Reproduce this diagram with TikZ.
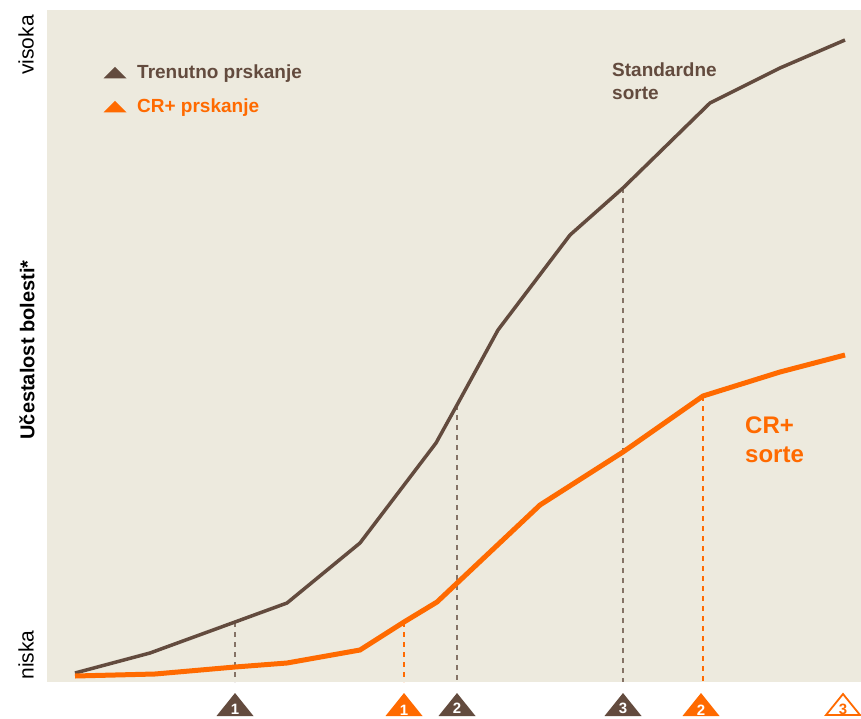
\documentclass[tikz,border=0pt]{standalone}
\usepackage{fontspec}
\setmainfont{Liberation Sans}
\definecolor{stdbrown}{RGB}{99,75,62}
\definecolor{crorange}{RGB}{255,106,0}
\definecolor{panel}{RGB}{237,234,222}
\tikzset{
  stdline/.style={draw=stdbrown,line width=3.5pt,line join=round},
  crline/.style={draw=crorange,line width=5pt,line join=round},
  stddash/.style={draw=stdbrown!75!panel,line width=1.3pt,dash pattern=on 5pt off 5pt},
  crdash/.style={draw=crorange,line width=1.3pt,dash pattern=on 5pt off 5pt},
  num/.style={font=\fontsize{15}{15}\selectfont\bfseries,text=white,inner sep=0pt},
  legend/.style={font=\fontsize{19}{19}\selectfont\bfseries,anchor=base west,inner sep=0pt},
  axislabel/.style={font=\fontsize{21}{21}\selectfont,rotate=90,inner sep=0pt}
}
\begin{document}
\begin{tikzpicture}[x=1pt,y=-1pt]
    \useasboundingbox (0,0) rectangle (861,719);
    \fill[panel] (47,10) rectangle (861,682);

    % standard varieties
    \coordinate (S1) at (75,673);
    \coordinate (S2) at (150,653);
    \coordinate (S3) at (235,622);
    \coordinate (S4) at (287,603);
    \coordinate (S5) at (360,543);
    \coordinate (S6) at (436,443);
    \coordinate (S7) at (457,405);
    \coordinate (S8) at (498,330);
    \coordinate (S9) at (570,235);
    \coordinate (S10) at (623,188);
    \coordinate (S11) at (710,103);
    \coordinate (S12) at (780,68);
    \coordinate (S13) at (845,40);

    % CR+ varieties
    \coordinate (C1) at (75,676);
    \coordinate (C2) at (155,674);
    \coordinate (C3) at (235,667);
    \coordinate (C4) at (287,663);
    \coordinate (C5) at (360,650);
    \coordinate (C6) at (404,622);
    \coordinate (C7) at (437,602);
    \coordinate (C8) at (540,505);
    \coordinate (C9) at (623,452);
    \coordinate (C10) at (703,396);
    \coordinate (C11) at (780,372);
    \coordinate (C12) at (845,355);

    % bottom ends of the dashed lines
    \coordinate (B1) at (235,682);
    \coordinate (B2) at (404,682);
    \coordinate (B3) at (457,682);
    \coordinate (B4) at (623,682);
    \coordinate (B5) at (703,682);

    \draw[stddash] (S3) -- (B1);
    \draw[stddash] (S7) -- (B3);
    \draw[stddash] (S10) -- (B4);
    \draw[crdash] (C6) -- (B2);
    \draw[crdash] (C10) -- (B5);

    \draw[stdline] (S1) -- (S2) -- (S3) -- (S4) -- (S5) -- (S6) -- (S7)
      -- (S8) -- (S9) -- (S10) -- (S11) -- (S12) -- (S13);
    \draw[crline] (C1) -- (C2) -- (C3) -- (C4) -- (C5) -- (C6) -- (C7)
      -- (C8) -- (C9) -- (C10) -- (C11) -- (C12);

    % spraying marks
    \coordinate (T1) at (235,705);
    \coordinate (T2) at (404,705);
    \coordinate (T3) at (457,705);
    \coordinate (T4) at (623,705);
    \coordinate (T5) at (701,705);
    \coordinate (T6) at (843,705);

    \fill[stdbrown] (T1) ++(-18.5,11) -- ++(37,0) -- ++(-18.5,-23) -- cycle;
    \fill[crorange] (T2) ++(-18.5,11) -- ++(37,0) -- ++(-18.5,-23) -- cycle;
    \fill[stdbrown] (T3) ++(-18.5,11) -- ++(37,0) -- ++(-18.5,-23) -- cycle;
    \fill[stdbrown] (T4) ++(-18.5,11) -- ++(37,0) -- ++(-18.5,-23) -- cycle;
    \fill[crorange] (T5) ++(-18.5,11) -- ++(37,0) -- ++(-18.5,-23) -- cycle;
    \draw[crorange,fill=white,line width=1.8pt,line join=miter]
      (T6) ++(-17,10) -- ++(34,0) -- ++(-17,-21) -- cycle;

    \node[num] (N1) at (235,709) {1};
    \node[num] (N2) at (404,710) {1};
    \node[num] (N3) at (457,708) {2};
    \node[num] (N4) at (623,708) {3};
    \node[num] (N5) at (701,710) {2};
    \node[num,text=crorange] (N6) at (843,709) {3};

    % legend
    \coordinate (L1) at (115,73);
    \coordinate (L2) at (115,107);
    \fill[stdbrown] (L1) ++(-11.5,5.5) -- ++(23,0) -- ++(-11.5,-11.5) -- cycle;
    \fill[crorange] (L2) ++(-11.5,5.5) -- ++(23,0) -- ++(-11.5,-11.5) -- cycle;
    \node[legend,text=stdbrown] (trenutno) at (137,79) {Trenutno prskanje};
    \node[legend,text=crorange] (crplus) at (137,113) {CR+ prskanje};

    % curve labels
    \node[font=\fontsize{19}{23}\selectfont\bfseries,text=stdbrown,align=left,
      anchor=base west,inner sep=0pt] (standard) at (612,100) {Standardne\\sorte};
    \node[font=\fontsize{24}{29}\selectfont\bfseries,text=crorange,align=left,
      anchor=base west,inner sep=0pt] (crsorte) at (745,462) {CR+\\sorte};

    % axis
    \node[axislabel] (visoka) at (26,45) {visoka};
    \node[axislabel] (niska) at (26,655) {niska};
    \node[axislabel,font=\fontsize{20}{20}\selectfont\bfseries] (ucestalost) at (27,350) {Učestalost bolesti*};
\end{tikzpicture}
\end{document}
